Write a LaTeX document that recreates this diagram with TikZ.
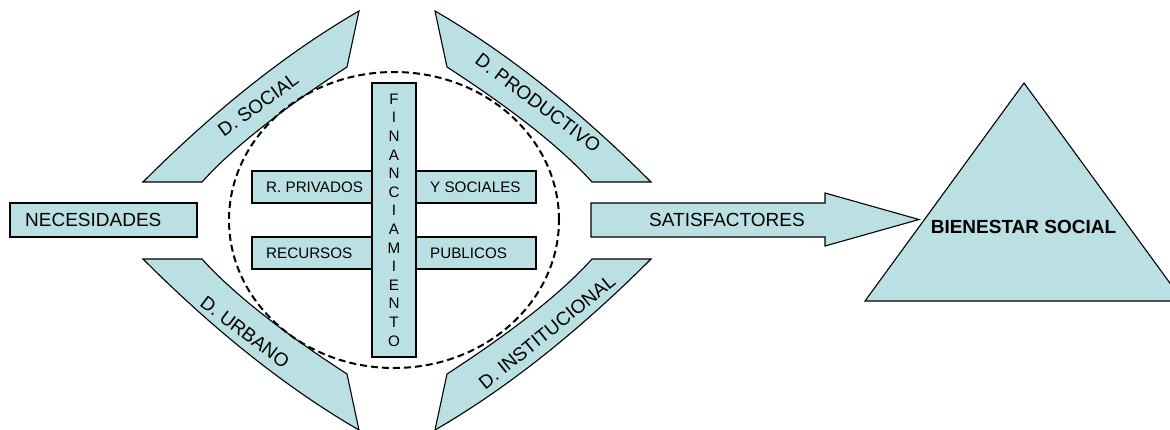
\documentclass[tikz,border=0pt]{standalone}
\usepackage{fontspec}
\setmainfont{Liberation Sans}
\definecolor{fillc}{RGB}{187,224,227}
\begin{document}
\begin{tikzpicture}[x=1pt,y=-1pt,
  shp/.style={draw=black, line width=1.1pt, fill=fillc, line join=miter},
  big/.style={font=\fontsize{19}{22}\selectfont, inner sep=0pt},
  small/.style={font=\fontsize{15.2}{18.6}\selectfont, inner sep=0pt},
  ring/.style={draw=black, line width=2pt, dash pattern=on 7pt off 4pt}]
\useasboundingbox (0,0) rectangle (1170,429);
\clip (0,0) rectangle (1170,429);
% curved bands
\path[shp] (143,182) -- (202,182) .. controls (232,148.7) and (280.3,110.3) .. (347,67) -- (359,11) .. controls (288.1,52) and (216.1,108.9) .. (143,182) -- cycle;
\path[shp] (651,182) -- (592,182) .. controls (562,148.7) and (513.7,110.3) .. (447,67) -- (435,11) .. controls (505.9,52) and (577.9,108.9) .. (651,182) -- cycle;
\path[shp] (143,259) -- (202,259) .. controls (232,292.3) and (280.3,330.7) .. (347,374) -- (359,430) .. controls (288.1,389) and (216.1,332.1) .. (143,259) -- cycle;
\path[shp] (651,259) -- (592,259) .. controls (562,292.3) and (513.7,330.7) .. (447,374) -- (435,430) .. controls (505.9,389) and (577.9,332.1) .. (651,259) -- cycle;
\node[big, rotate=36] (dsoc) at (258,105) {D. SOCIAL};
\node[big, rotate=-37] (dprod) at (538,103) {D. PRODUCTIVO};
\node[big, rotate=-37] (durb) at (245,332) {D. URBANO};
\node[big, rotate=39] (dinst) at (547,332) {D. INSTITUCIONAL};
% dashed ring
\path[ring] (394,220) ellipse [x radius=165pt, y radius=148pt];
% horizontal bars
\node[shp, minimum width=120pt, minimum height=32pt, inner sep=0pt] (rpb) at (312,187) {};
\node[shp, minimum width=120pt, minimum height=32pt, inner sep=0pt] (ysb) at (476,187) {};
\node[shp, minimum width=120pt, minimum height=32pt, inner sep=0pt] (recb) at (312,253) {};
\node[shp, minimum width=120pt, minimum height=32pt, inner sep=0pt] (pubb) at (476,253) {};
\node[small, anchor=west] (rpt) at (266,187) {R. PRIVADOS};
\node[small, anchor=west] (yst) at (430,187) {Y SOCIALES};
\node[small, anchor=west] (rect) at (266,253) {RECURSOS};
\node[small, anchor=west] (pubt) at (430,253) {PUBLICOS};
% vertical bar
\node[shp, small, minimum width=44pt, minimum height=274pt, align=center] (fin) at (394,220)
  {F\\I\\N\\A\\N\\C\\I\\A\\M\\I\\E\\N\\T\\O};
% necesidades
\node[shp, minimum width=187pt, minimum height=34pt, inner sep=0pt] (nec) at (103.5,220) {};
\node[big, anchor=west] (nect) at (25,220) {NECESIDADES};
% satisfactores arrow
\path[shp] (591,203) -- (825,203) -- (825,193) -- (919,219.5) -- (825,246) -- (825,237) -- (591,237) -- cycle;
\node[big, anchor=west] (sat) at (649,220) {SATISFACTORES};
% triangle
\path[shp] (1024,83) -- (1183,301) -- (865,301) -- cycle;
\node[big, font=\fontsize{19}{22}\selectfont\bfseries] (bien) at (1023.5,227) {BIENESTAR SOCIAL};
\end{tikzpicture}
\end{document}
